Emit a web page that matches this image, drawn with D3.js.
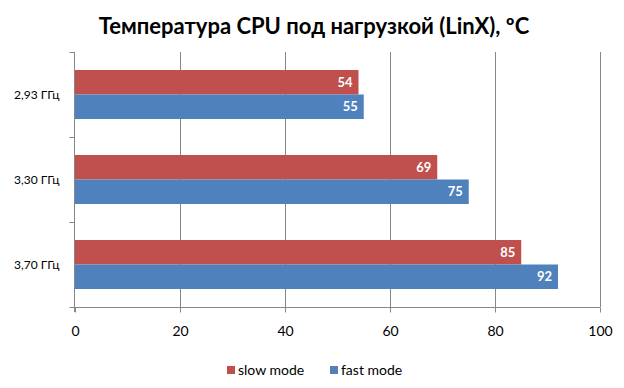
<!DOCTYPE html>
<html lang="ru">
<meta charset="UTF-8">
<title>Температура CPU</title>
<script src="https://d3js.org/d3.v7.min.js"></script>
<style>
  body { margin: 0; background: #fff; }
  svg text { font-family: Lato, "Open Sans", sans-serif; }
</style>
<body>
<svg id="canvas"></svg>
<script>
// data
let categories = ['2,93 ГГц', '3,30 ГГц', '3,70 ГГц']
let seriesNames = ['slow mode', 'fast mode']
let slowMode = [54, 69, 85]
let fastMode = [55, 75, 92]
let xTicks = [0, 20, 40, 60, 80, 100]
let colors = ['#C0504D', '#4F81BD']

let width = 624
let height = 388
let plotLeft = 75, plotRight = 600, plotTop = 52, plotBottom = 307

let canvas = d3.select('#canvas').attr('width', width).attr('height', height)

let xScale = d3.scaleLinear().domain([0, 100]).range([plotLeft, plotRight])
let yScale = d3.scaleBand().domain(categories).range([plotTop, plotBottom]).paddingInner(0.4235).paddingOuter(0.21175)
let subScale = d3.scaleBand().domain(seriesNames).range([0, yScale.bandwidth()])

// title
canvas.append('text')
  .attr('x', 314).attr('y', 34)
  .attr('text-anchor', 'middle')
  .style('font-size', '22px').style('font-weight', 'bold')
  .text('Температура CPU под нагрузкой (LinX), ºC')

// gridlines
canvas.append('g').selectAll('line')
  .data(xTicks.slice(1))
  .enter().append('line')
  .attr('x1', d => xScale(d) + 0.5).attr('x2', d => xScale(d) + 0.5)
  .attr('y1', plotTop).attr('y2', plotBottom)
  .attr('stroke', '#868686')

// bars
let rows = categories.map((c, i) => ({cat: c, values: [slowMode[i], fastMode[i]]}))
let groups = canvas.append('g').selectAll('g')
  .data(rows).enter().append('g')
  .attr('transform', d => 'translate(0,' + yScale(d.cat) + ')')

groups.selectAll('rect')
  .data(d => d.values.map((v, j) => ({name: seriesNames[j], v: v, j: j})))
  .enter().append('rect')
  .attr('x', xScale(0))
  .attr('y', d => subScale(d.name))
  .attr('width', d => xScale(d.v) - xScale(0))
  .attr('height', subScale.bandwidth())
  .attr('fill', d => colors[d.j])

groups.selectAll('text')
  .data(d => d.values.map((v, j) => ({name: seriesNames[j], v: v, j: j})))
  .enter().append('text')
  .attr('x', d => xScale(d.v) - 6)
  .attr('y', d => subScale(d.name) + subScale.bandwidth() / 2)
  .attr('dy', '0.36em')
  .attr('text-anchor', 'end')
  .attr('fill', '#fff')
  .style('font-size', '13px').style('font-weight', 'bold')
  .text(d => d.v)

// axes
let xAxis = d3.axisBottom(xScale).tickValues(xTicks).tickSize(5).tickPadding(14)
let gx = canvas.append('g')
  .attr('transform', 'translate(0,' + (plotBottom + 0.5) + ')')
  .call(xAxis)
gx.select('.domain').attr('stroke', '#868686').attr('d', 'M' + plotLeft + ',0H' + plotRight)
gx.selectAll('.tick line').attr('stroke', '#868686')
gx.selectAll('.tick text').style('font-size', '14px').attr('fill', '#000').attr('font-family', null)

let gy = canvas.append('g').attr('transform', 'translate(' + (plotLeft - 0.5) + ',0)')
gy.append('line').attr('x1', 0).attr('x2', 0).attr('y1', plotTop).attr('y2', plotBottom + 5).attr('stroke', '#868686')
gy.selectAll('.tk')
  .data([plotTop, ...categories.map(c => yScale(c) + yScale.bandwidth() / 2 + yScale.step() / 2)])
  .enter().append('line')
  .attr('x1', -5).attr('x2', 0)
  .attr('y1', d => Math.round(d) + 0.5).attr('y2', d => Math.round(d) + 0.5)
  .attr('stroke', '#868686')
gy.selectAll('text')
  .data(categories).enter().append('text')
  .attr('x', -15)
  .attr('y', d => yScale(d) + yScale.bandwidth() / 2)
  .attr('dy', '0.36em')
  .attr('text-anchor', 'end')
  .style('font-size', '12px')
  .text(d => d)

// legend
let legend = canvas.append('g').attr('transform', 'translate(227,370)')
let lx = [0, 103]
seriesNames.forEach((n, i) => {
  legend.append('rect').attr('x', lx[i]).attr('y', -4).attr('width', 8).attr('height', 8).attr('fill', colors[i])
  legend.append('text').attr('x', lx[i] + 11).attr('y', 0).attr('dy', '0.36em')
    .style('font-size', '14px').text(n)
})
</script>
</body>
</html>
